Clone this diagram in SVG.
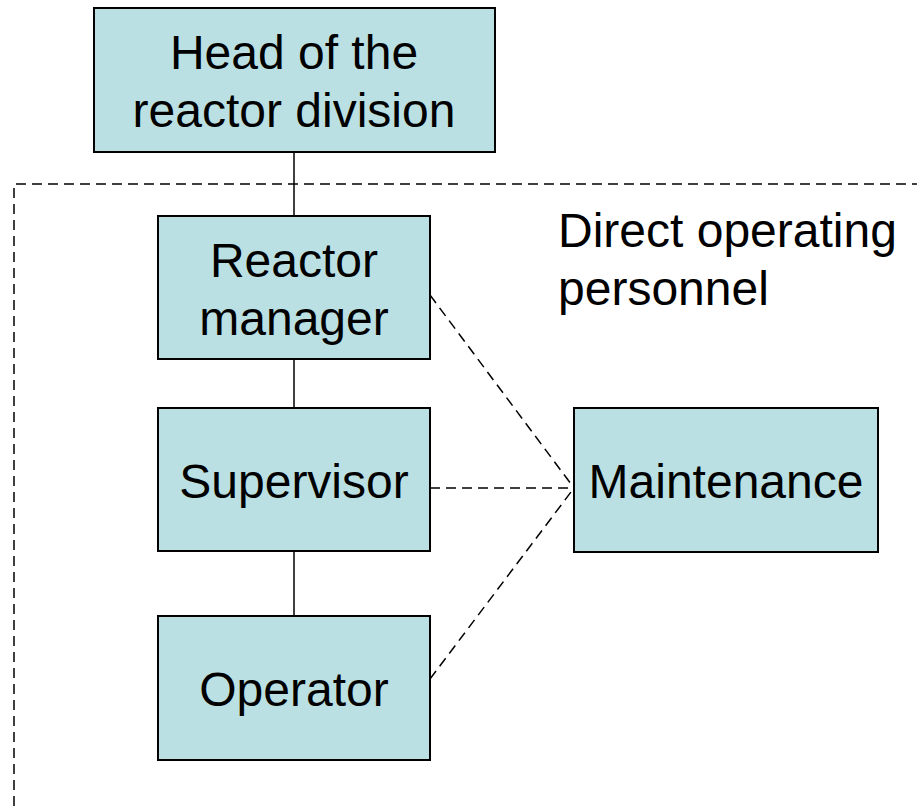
<svg xmlns="http://www.w3.org/2000/svg" width="917" height="806" viewBox="0 0 917 806">
  <style>
    .box { fill: #BBE0E3; stroke: #000; stroke-width: 2; }
    .lbl { font-family: "Liberation Sans", Arial, sans-serif; font-size: 48px; fill: #000; }
    .mid { text-anchor: middle; }
    .solid { stroke: #000; stroke-width: 1.5; fill: none; }
    .dash { stroke: #000; stroke-width: 1.5; fill: none; stroke-dasharray: 10 6; }
  </style>
  <rect width="917" height="806" fill="#fff"/>

  <!-- dashed boundary of the operating group -->
  <g id="group-boundary">
    <path class="dash" d="M14,806 V184 H917"/>
    <text class="lbl" x="558" y="247">Direct operating</text>
    <text class="lbl" x="558" y="305">personnel</text>
  </g>

  <g id="connectors">
    <line class="solid" x1="294" y1="152" x2="294" y2="216"/>
    <line class="solid" x1="294" y1="359" x2="294" y2="408"/>
    <line class="solid" x1="294" y1="551" x2="294" y2="616"/>
    <line class="dash" x1="430" y1="295" x2="574" y2="488"/>
    <line class="dash" x1="430" y1="488" x2="574" y2="488"/>
    <line class="dash" x1="430" y1="679" x2="574" y2="488"/>
  </g>

  <g id="head">
    <rect class="box" x="94" y="8" width="401" height="144"/>
    <text class="lbl mid" x="294" y="69">Head of the</text>
    <text class="lbl mid" x="294" y="127">reactor division</text>
  </g>

  <g id="reactor-manager">
    <rect class="box" x="158" y="216" width="272" height="143"/>
    <text class="lbl mid" x="294" y="277">Reactor</text>
    <text class="lbl mid" x="294" y="335">manager</text>
  </g>

  <g id="supervisor">
    <rect class="box" x="158" y="408" width="272" height="143"/>
    <text class="lbl mid" x="294" y="498">Supervisor</text>
  </g>

  <g id="operator">
    <rect class="box" x="158" y="616" width="272" height="144"/>
    <text class="lbl mid" x="294" y="706">Operator</text>
  </g>

  <g id="maintenance">
    <rect class="box" x="574" y="408" width="304" height="144"/>
    <text class="lbl mid" x="726" y="498">Maintenance</text>
  </g>
</svg>
